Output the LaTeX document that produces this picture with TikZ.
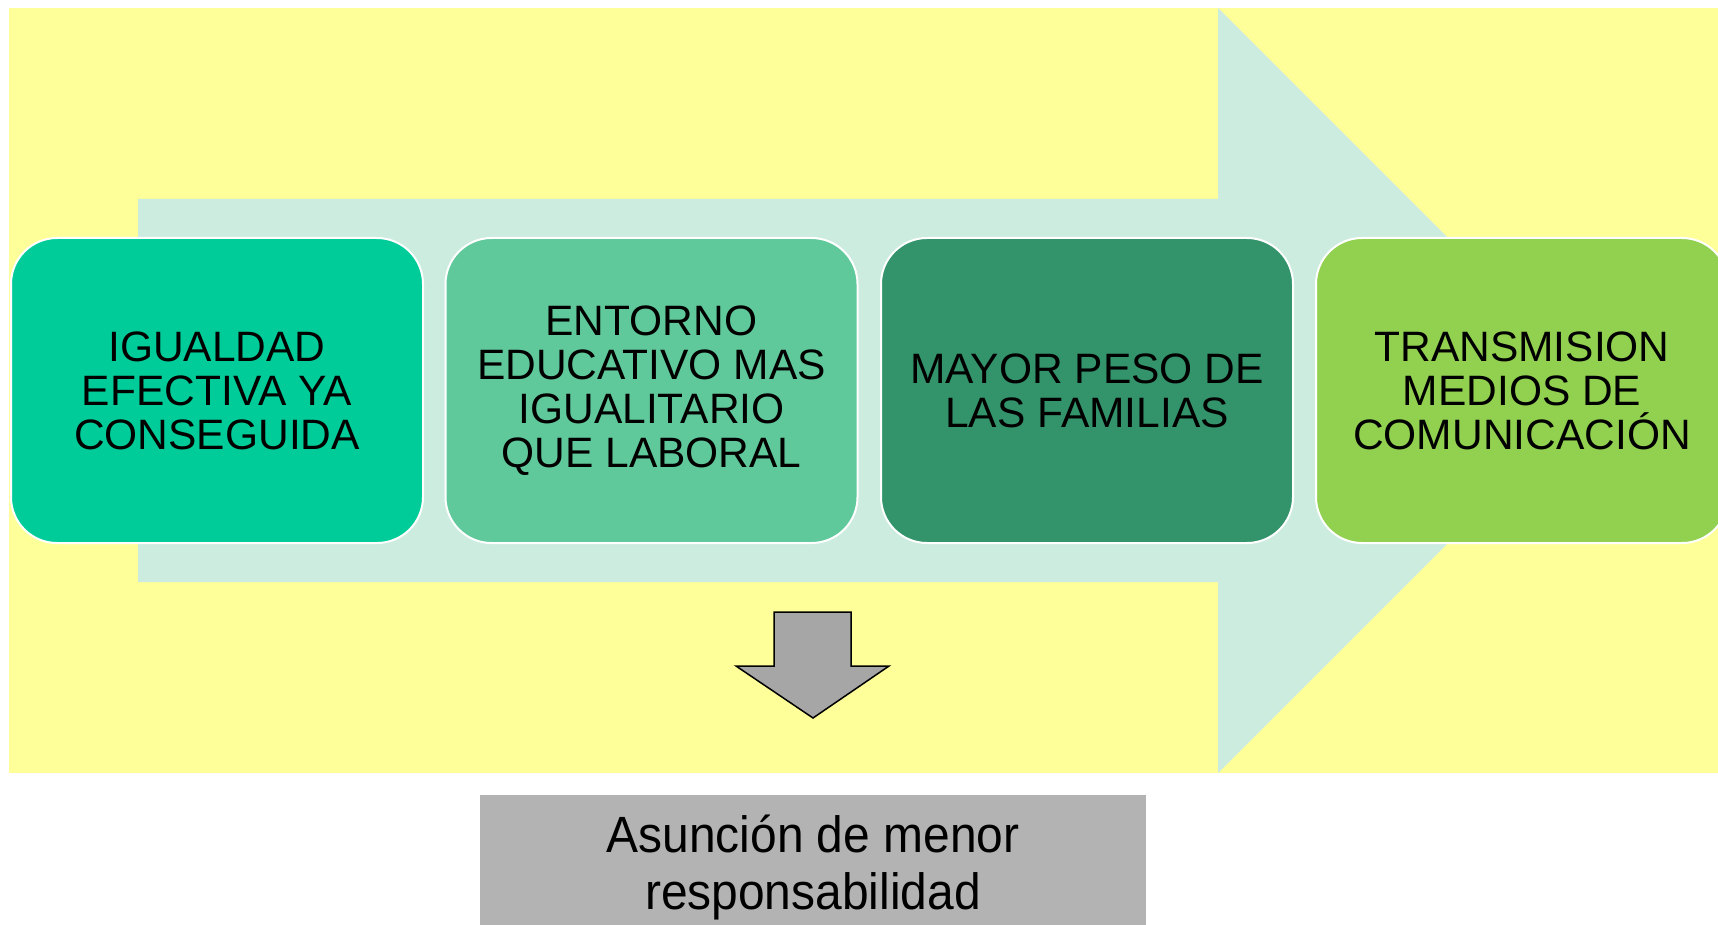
\documentclass[tikz,border=0pt]{standalone}
\usepackage{fontspec}
\setmainfont{Liberation Sans}
\newfontfamily\narrowfont[FakeStretch=0.94]{Liberation Sans}
\definecolor{bgyellow}{HTML}{FFFF99}
\definecolor{arrowteal}{HTML}{CCECE0}
\definecolor{boxA}{HTML}{00CC99}
\definecolor{boxB}{HTML}{60C99B}
\definecolor{boxC}{HTML}{33946C}
\definecolor{boxD}{HTML}{92D050}
\definecolor{downgray}{HTML}{A6A6A6}
\definecolor{resgray}{HTML}{B3B3B3}
\tikzset{
  stagebox/.style={draw=white, line width=2pt, rounded corners=46pt,
    minimum width=412pt, minimum height=305pt, inner sep=0pt,
    align=center, text=black, font=\fontsize{42.5}{44}\selectfont},
  restext/.style={anchor=base, text=black, inner sep=0pt,
    font=\narrowfont\fontsize{51}{57}\selectfont}
}
\begin{document}
\begin{tikzpicture}[x=1pt,y=-1pt]
\useasboundingbox (0,0) rectangle (1718,925);
\fill[white] (0,0) rectangle (1718,925);
% yellow background
\fill[bgyellow] (9,8) rectangle (1718,773);
% big arrow
\fill[arrowteal] (138,199) -- (1218,199) -- (1218,8) -- (1600.5,390.5)
  -- (1218,773) -- (1218,582) -- (138,582) -- cycle;
% stage boxes
\node[stagebox, fill=boxA] (b1) at (217,390.5) {IGUALDAD\\EFECTIVA YA\\CONSEGUIDA};
\node[stagebox, fill=boxB] (b2) at (651.5,390.5) {ENTORNO\\EDUCATIVO MAS\\IGUALITARIO\\QUE LABORAL};
\node[stagebox, fill=boxC] (b3) at (1087,390.5) {MAYOR PESO DE\\LAS FAMILIAS};
\node[stagebox, fill=boxD] (b4) at (1522,390.5) {TRANSMISION\\MEDIOS DE\\COMUNICACIÓN};
% down arrow
\filldraw[fill=downgray, draw=black, line width=1.5pt, line join=miter]
  (774,612) -- (851,612) -- (851,666) -- (889,666) -- (813,718)
  -- (736,666) -- (774,666) -- cycle;
% result box
\node[fill=resgray, minimum width=666pt, minimum height=130pt, inner sep=0pt] (res) at (813,860) {};
\node[restext] (r1) at (813,852) {Asunción de menor};
\node[restext] (r2) at (813,909) {responsabilidad};
\end{tikzpicture}
\end{document}
